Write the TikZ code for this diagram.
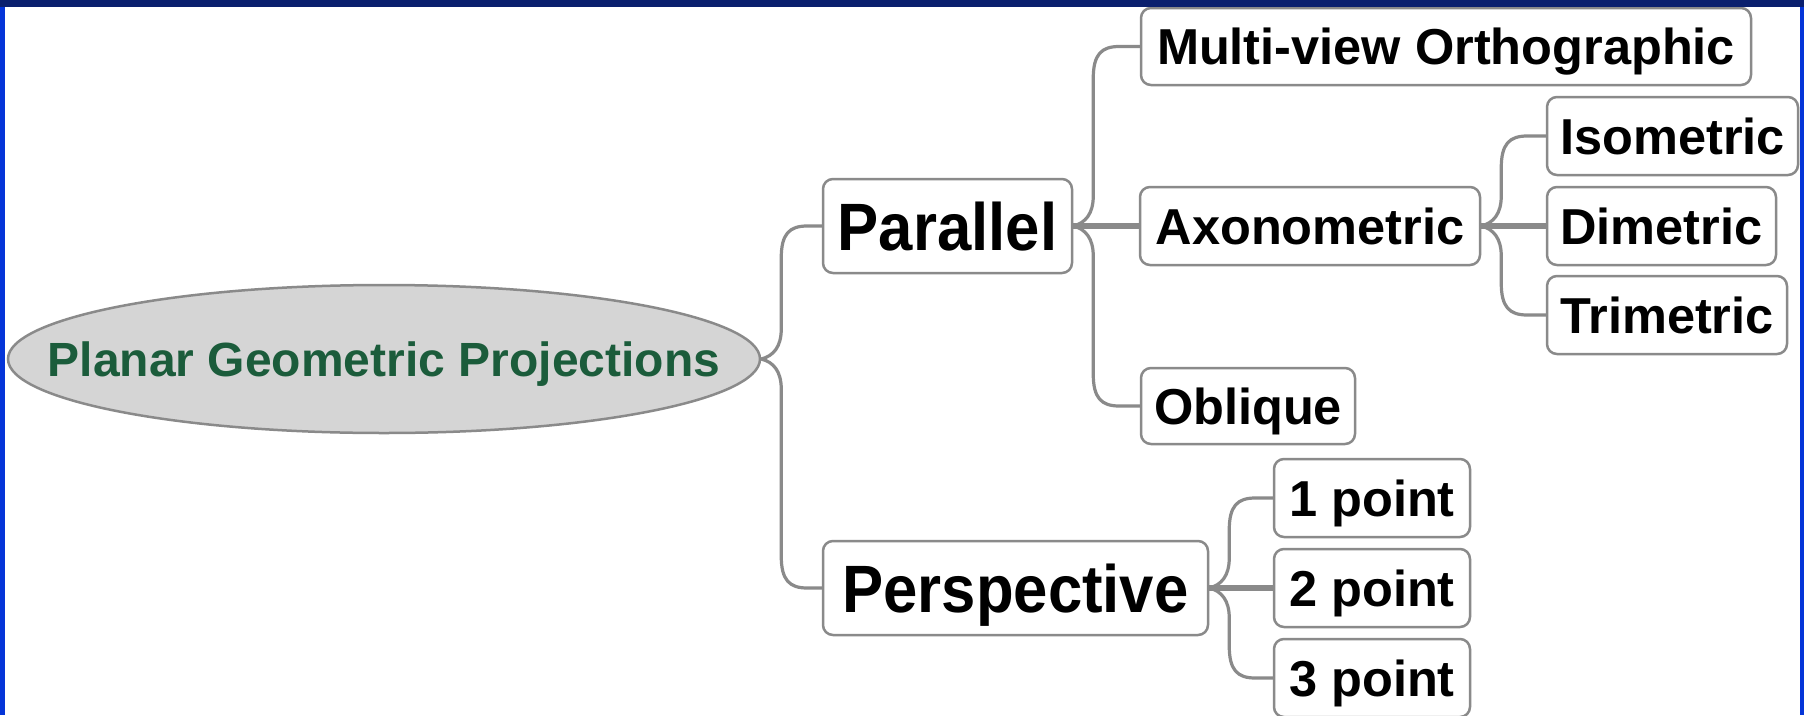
\documentclass[tikz,border=0pt]{standalone}
\usepackage{fontspec}
\setmainfont{Liberation Sans}
\newfontfamily\headfont{Liberation Sans}[FakeStretch=0.92]
\usetikzlibrary{calc,shapes.geometric}
\definecolor{framenavy}{HTML}{0A1F6E}
\definecolor{frameblue}{HTML}{0535D8}
\definecolor{linegray}{HTML}{8A8A8A}
\definecolor{rootfill}{HTML}{D5D5D5}
\definecolor{rootgreen}{HTML}{1B5C3B}
\begin{document}
\begin{tikzpicture}[x=1pt,y=-1pt,
  box/.style={draw=linegray, line width=2.5pt, fill=white, rounded corners=10pt,
    inner sep=0pt, minimum height=78pt, text height=36pt, text depth=0pt,
    font=\fontsize{50.5}{60}\selectfont\bfseries},
  headbox/.style={box, minimum height=94pt, text height=48pt,
    font=\headfont\fontsize{67}{80}\selectfont\bfseries},
  rootnode/.style={ellipse, draw=linegray, line width=2.5pt, fill=rootfill,
    inner sep=0pt, text=rootgreen, text height=35pt, text depth=0pt,
    font=\fontsize{48}{56}\selectfont\bfseries},
  conn/.style={draw=linegray, line width=3.2pt},
  stem/.style={draw=linegray, line width=5.5pt},
  % rounded elbow from a parent's east side to a child's west side
  branch/.style={to path={
    let \p1=(\tikztostart), \p2=(\tikztotarget), \n1={sign(\y2-\y1)} in
    (\p1) .. controls ({\x1+12pt},{\y1+3pt*\n1}) and ({\x1+20pt},{\y1+12pt*\n1})
          .. ({\x1+20pt},{\y1+30pt*\n1})
    -- ({\x1+20pt},{\y2-32pt*\n1})
    .. controls ({\x1+20pt},{\y2-8pt*\n1}) and ({\x1+28pt},{\y2})
          .. ({\x1+46pt},{\y2})
    -- (\p2)}}
]
\useasboundingbox (0,0) rectangle (1804,715);
\fill[white] (0,0) rectangle (1804,715);

% nodes
\node[rootnode, minimum width=752pt, minimum height=148pt] (root) at (384,359)
  {\makebox[0pt]{Planar Geometric Projections}};
\node[headbox, minimum width=249pt] (par) at (947.5,226) {Parallel};
\node[headbox, minimum width=385pt] (persp) at (1015.5,588) {Perspective};
\node[box, minimum width=610pt, minimum height=77pt] (multi) at (1446,46.5) {Multi-view Orthographic};
\node[box, minimum width=340pt] (axo) at (1310,226) {Axonometric};
\node[box, minimum width=214pt, minimum height=76pt] (obl) at (1248,406) {Oblique};
\node[box, minimum width=251pt] (iso) at (1672.5,136) {Isometric};
\node[box, minimum width=229pt] (dim) at (1661.5,226) {Dimetric};
\node[box, minimum width=240pt] (tri) at (1667,315) {Trimetric};
\node[box, minimum width=196pt] (p1) at (1372,498) {1 point};
\node[box, minimum width=196pt] (p2) at (1372,588) {2 point};
\node[box, minimum width=196pt] (p3) at (1372,678) {3 point};

% connectors
\draw[conn] (root.east) to[branch] (par.west);
\draw[conn] (root.east) to[branch] (persp.west);
\draw[conn] (par.east) to[branch] (multi.west);
\draw[stem] (par.east) -- (axo.west);
\draw[conn] (par.east) to[branch] (obl.west);
\draw[conn] (axo.east) to[branch] (iso.west);
\draw[stem] (axo.east) -- (dim.west);
\draw[conn] (axo.east) to[branch] (tri.west);
\draw[conn] (persp.east) to[branch] (p1.west);
\draw[stem] (persp.east) -- (p2.west);
\draw[conn] (persp.east) to[branch] (p3.west);

% frame bars
\fill[frameblue] (0,0) rectangle (5,715);
\fill[frameblue] (1800,0) rectangle (1804,715);
\fill[framenavy] (0,0) rectangle (1804,6.5);
\end{tikzpicture}
\end{document}
